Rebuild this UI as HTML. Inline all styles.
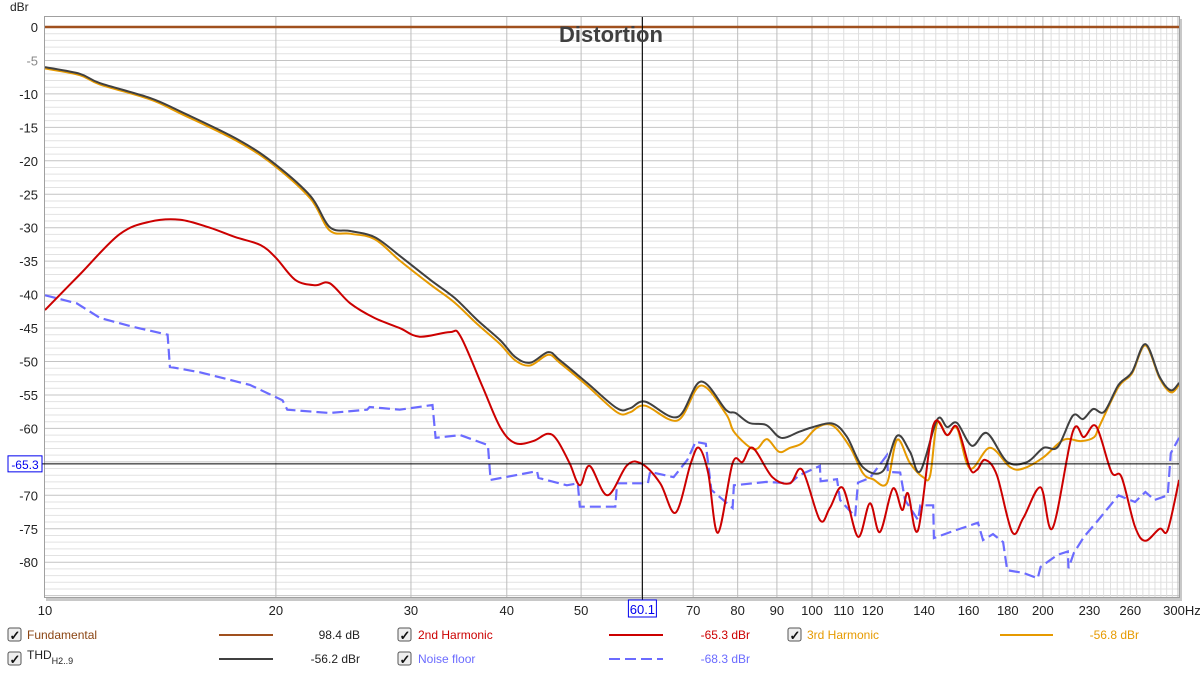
<!DOCTYPE html>
<html><head><meta charset="utf-8"><style>
body{margin:0;background:#fff;font-family:"Liberation Sans",sans-serif;}
svg{display:block}
</style></head><body>
<svg id="chart" width="1200" height="674" viewBox="0 0 1200 674" xmlns="http://www.w3.org/2000/svg">
<rect x="0" y="0" width="1200" height="674" fill="#ffffff"/>
<rect x="46" y="19" width="1136" height="582" fill="#c8c8c8"/>
<rect x="44.5" y="16.5" width="1135" height="581" fill="#fff" stroke="#a0a0a0"/>
<g id="grid"></g>
<g id="series" clip-path="url(#clip)"></g>
<defs><clipPath id="clip"><rect x="45" y="17" width="1134" height="580"/></clipPath></defs>
<g id="axes"></g>
<text x="611" y="42" text-anchor="middle" font-size="22" font-weight="bold" fill="#404040">Distortion</text>
<text x="10" y="11" font-size="12" fill="#222">dBr</text>
<g id="legend" font-size="12"></g>
</svg>
<script>
const NS="http://www.w3.org/2000/svg";
const xTicks=[10,20,30,40,50,70,80,90,100,110,120,140,160,180,200,230,260,300];
const xTickLabels=["10","20","30","40","50","70","80","90","100","110","120","140","160","180","200","230","260","300Hz"];
const yTicks=[0,-5,-10,-15,-20,-25,-30,-35,-40,-45,-50,-55,-60,-70,-75,-80];
const cursorFreq=60.1;
const cursorDb=-65.3;
const fundDb=0;
const thdF=[10,11.1,11.8,13.7,15.0,17.9,20,22.2,23.5,25,26.9,29.0,31.8,34.2,36.6,39.2,41.0,42.9,45.3,46.9,50.9,55.7,57.9,60.6,66.8,71.6,77.2,79.5,82.9,87.2,91.1,96.3,100.3,106.5,111.1,116.5,123.7,129.1,134.2,138.4,145.6,150,154.6,161.6,169.1,179.7,190.9,200.4,209,218.8,225.6,232.6,240.5,251,261.3,272.1,283.9,293.6,301];
const thdDb=[-6.0,-7.0,-8.4,-10.6,-12.6,-16.9,-20.6,-25.3,-29.9,-30.5,-31.4,-34.2,-37.8,-40.5,-43.8,-46.8,-49.3,-50.2,-48.6,-49.8,-53.2,-57,-57,-56,-58.3,-53,-57.2,-57.7,-59.2,-59.5,-61.4,-60.5,-59.8,-59.3,-61.3,-65.8,-66.4,-61.1,-63.5,-66.4,-58.7,-59.8,-59.2,-62.6,-60.7,-65,-65,-62.9,-62.8,-58.1,-58.6,-57.1,-57.5,-53.5,-51.6,-47.4,-52.3,-54.3,-53.2];
const h3F=[10,11.1,11.8,13.7,15.0,17.9,20,22.2,23.5,25,26.9,29.0,31.8,34.2,36.6,39.2,41.0,42.9,45.3,46.9,50.9,55.7,57.9,60.6,66.8,71.6,77.2,79.1,82.9,84.9,87.4,90.6,93.6,97.1,101.5,106.5,112.1,116.5,120.1,125.2,129.1,134.2,139.6,142.6,145.6,150,154.6,160.7,170.6,181.3,188.6,200.4,212.9,224.3,233.3,236.9,251,261.3,272.1,283.9,293.6,301];
const h3Db=[-6.2,-7.2,-8.6,-10.8,-12.9,-17.2,-20.9,-25.7,-30.4,-30.9,-31.7,-34.9,-38.5,-41.2,-44.4,-47.4,-49.8,-50.6,-49.0,-50.2,-53.6,-57.6,-57.6,-56.6,-58.8,-53.6,-57.8,-60.5,-62.8,-63,-61.6,-63.5,-62.9,-62.2,-59.9,-59.6,-62.8,-66.7,-67.6,-68.2,-61.7,-65.2,-67.3,-67,-59.2,-61,-60,-66,-62.9,-65.8,-66,-64.3,-61.7,-61.9,-61.3,-59.7,-53.8,-51.8,-47.6,-52.5,-54.6,-53.5];
const h2F=[10,11.1,12.5,13.7,15.0,16.4,17.7,19.1,20,21.2,22.5,23.5,25,26.9,29,30.8,33.7,34.8,37.2,39.2,41,43.3,45.2,46.5,48.3,49.8,51.3,54.1,57.4,60,63.4,66.4,69.5,71.2,73.2,75.4,78.8,81.2,83.7,88.8,93.6,97.1,102.4,105.5,109.7,114.8,119,122.6,127.5,131.1,133.4,137.5,143.9,150,154.6,160.7,164.1,168.1,174.2,182.4,188.6,198.6,205.9,218.8,226.3,234.7,245.7,253.3,263.7,272.1,283.9,290.9,301];
const h2Db=[-42.3,-37,-31,-29.1,-28.8,-30,-31.4,-32.6,-34.5,-37.8,-38.6,-38.3,-41.3,-43.5,-45,-46.3,-45.6,-46.2,-53.8,-59.8,-62.2,-61.9,-60.8,-61.7,-65.2,-68.5,-65.6,-70,-65.5,-65.3,-68.2,-72.6,-65.2,-62.9,-66.6,-75.6,-65.2,-65,-62.9,-67.3,-68.2,-66.2,-73.7,-71.9,-68.9,-76.2,-71.2,-75.5,-69,-72.2,-69.7,-75.2,-59.6,-61,-59.8,-66,-66.2,-64.7,-67,-75.5,-73.4,-68.8,-74.9,-60.5,-61.3,-59.7,-66.5,-67.3,-74.7,-76.8,-75.0,-75.2,-67.7];
const nzF=[10,11,11.8,13,14.45,14.55,15.9,18.5,20.4,20.7,23.5,26.3,26.5,29,32,32.3,34.8,37.8,38.1,43.8,44,47.9,49.5,49.8,55.4,55.7,61.1,61.5,66,68.8,70.5,72.7,73.9,78.8,79.1,87.2,93.6,96.3,102.4,102.6,107.8,108.8,113.8,114.8,119,125.2,125.6,130.3,132.2,137.5,138.4,143.9,144.2,151.4,164.6,167.1,172.2,177.5,179.7,188.6,196.9,198.6,209,215.5,216,219.5,226.3,236.1,251,263.7,272.1,279.6,290.9,293.6,301];
const nzDb=[-40.1,-41.3,-43.5,-44.8,-46,-50.8,-51.6,-53.5,-55.8,-57.2,-57.7,-57.2,-56.8,-57.2,-56.5,-61.4,-61,-62.5,-67.7,-66.4,-67.4,-68.5,-68.2,-71.7,-71.7,-68.2,-68.2,-66.5,-67.3,-64.7,-62,-62.3,-69.2,-71.9,-68.5,-68,-68.2,-67,-65.6,-67.9,-67.6,-70.7,-73.2,-68.1,-67.4,-64,-66.5,-66.6,-70.7,-73.7,-71.5,-71.5,-76.4,-75.5,-74.1,-76.7,-75.8,-77,-81.2,-81.6,-82.4,-80.7,-78.9,-78.4,-80.9,-78.6,-76.2,-73.7,-70,-71,-69.5,-70.7,-70,-63.7,-61.4];

const X0=45,X1=1179,Y0=17,Y1=597;
function xS(f){return 45+767*Math.log10(f/10);}
function yS(d){return 27-6.69*d;}
function mk(tag,attrs,parent){const e=document.createElementNS(NS,tag);for(const k in attrs)e.setAttribute(k,attrs[k]);parent.appendChild(e);return e;}

const grid=document.getElementById('grid');
for(let d=0;d>=-85;d--){
  const y=yS(d);
  const l=mk('line',{x1:X0,x2:X1,y1:y,y2:y,stroke:d%5===0?'#c4c4c4':'#e2e2e2','stroke-width':1},grid);
  
  
}
const vf=[];
for(let f=20;f<=100;f+=10)vf.push(f);
for(let f=105;f<=300;f+=5)vf.push(f);
vf.forEach(f=>{
  const x=xS(f);
  const major=(f<=100)||f===200||f===300;
  const l=mk('line',{x1:x,x2:x,y1:Y0,y2:Y1,stroke:major?'#bdbdbd':'#dedede','stroke-width':1},grid);
  
  
});

function smoothPath(F,D){
  const p=F.map((f,i)=>[xS(f),yS(D[i])]);
  let s='M'+p[0][0].toFixed(1)+','+p[0][1].toFixed(1);
  for(let i=0;i<p.length-1;i++){
    const a=p[Math.max(0,i-1)],b=p[i],c=p[i+1],d=p[Math.min(p.length-1,i+2)];
    const c1=[b[0]+(c[0]-a[0])/6,b[1]+(c[1]-a[1])/6];
    const c2=[c[0]-(d[0]-b[0])/6,c[1]-(d[1]-b[1])/6];
    s+=' C'+c1[0].toFixed(1)+','+c1[1].toFixed(1)+' '+c2[0].toFixed(1)+','+c2[1].toFixed(1)+' '+c[0].toFixed(1)+','+c[1].toFixed(1);
  }
  return s;
}
function linePath(F,D){return F.map((f,i)=>(i?'L':'M')+xS(f).toFixed(1)+','+yS(D[i]).toFixed(1)).join(' ');}

const sg=document.getElementById('series');
const nz=mk('path',{d:linePath(nzF,nzDb),fill:'none',stroke:'#6b6bff','stroke-width':2.2,'stroke-dasharray':'11,5'},sg);


const h3=mk('path',{d:smoothPath(h3F,h3Db),fill:'none',stroke:'#e69a00','stroke-width':2},sg);


const thd=mk('path',{d:smoothPath(thdF,thdDb),fill:'none',stroke:'#404040','stroke-width':2},sg);


const h2=mk('path',{d:smoothPath(h2F,h2Db),fill:'none',stroke:'#cc0000','stroke-width':2},sg);


const fu=mk('line',{x1:X0,x2:X1,y1:yS(fundDb),y2:yS(fundDb),stroke:'#a0501e','stroke-width':2.5},sg);


const cv=mk('line',{x1:xS(cursorFreq),x2:xS(cursorFreq),y1:Y0,y2:Y1+4,stroke:'#000','stroke-width':1},document.getElementById('axes'));


const ch=mk('line',{x1:X0-3,x2:X1,y1:yS(cursorDb),y2:yS(cursorDb),stroke:'#000','stroke-width':1},document.getElementById('axes'));



const ax=document.getElementById('axes');
xTicks.forEach((f,i)=>{
  const t=mk('text',{x:xS(f)+(i===xTicks.length-1?4:0),y:615,'text-anchor':'middle','font-size':13,fill:'#222'},ax);
  t.textContent=xTickLabels[i];
  
  
});
yTicks.forEach(d=>{
  const t=mk('text',{x:38,y:yS(d)+5,'text-anchor':'end','font-size':13,fill:d===-5?'#888':'#222'},ax);
  t.textContent=String(d);
  
  
});
const cx=xS(cursorFreq);
const xb=mk('rect',{x:cx-14,y:600,width:28,height:17,fill:'#fff',stroke:'#0000ee'},ax);


const xt=mk('text',{x:cx,y:614,'text-anchor':'middle','font-size':13,fill:'#0000ee'},ax);
xt.textContent=String(cursorFreq);


const cy=yS(cursorDb);
const yb=mk('rect',{x:8,y:cy-8,width:34,height:16,fill:'#fff',stroke:'#0000ee'},ax);


const yt=mk('text',{x:25,y:cy+5,'text-anchor':'middle','font-size':12,fill:'#0000ee'},ax);
yt.textContent=String(cursorDb);



const lg=document.getElementById('legend');
const items=[
 {cb:8,tx:27,y:635,label:'Fundamental',col:'#8b4513',lc:'#a0501e',l0:219,l1:273,val:'98.4 dB',vx:360,vc:'#222',dash:null,name:'fundamental'},
 {cb:398,tx:418,y:635,label:'2nd Harmonic',col:'#cc0000',lc:'#cc0000',l0:609,l1:663,val:'-65.3 dBr',vx:750,vc:'#cc0000',dash:null,name:'second-harmonic'},
 {cb:788,tx:807,y:635,label:'3rd Harmonic',col:'#e69a00',lc:'#e69a00',l0:1000,l1:1053,val:'-56.8 dBr',vx:1139,vc:'#e69a00',dash:null,name:'third-harmonic'},
 {cb:8,tx:27,y:659,label:'THD',col:'#222',lc:'#404040',l0:219,l1:273,val:'-56.2 dBr',vx:360,vc:'#222',dash:null,name:'thd'},
 {cb:398,tx:418,y:659,label:'Noise floor',col:'#6b6bff',lc:'#6b6bff',l0:609,l1:663,val:'-68.3 dBr',vx:750,vc:'#6b6bff',dash:'11,5',name:'noise-floor'}
];
items.forEach(it=>{
  const g=mk('g',{},lg);
  
  
  const b=mk('rect',{x:it.cb,y:it.y-7,width:13,height:13,rx:2,fill:'#eee',stroke:'#555'},g);
  
  
  const ck=mk('text',{x:it.cb+1.5,y:it.y+5,'font-size':13,'font-weight':'bold',fill:'#111'},g);
  ck.textContent='✓';
  
  
  const t=mk('text',{x:it.tx,y:it.y+4,'font-size':12,fill:it.col},g);
  
  
  if(it.name==='thd'){
    t.setAttribute('y',it.y);
    t.textContent='THD';
    const s=mk('tspan',{dy:5,'font-size':9},t);
    s.textContent='H2..9';
  } else t.textContent=it.label;
  const la={x1:it.l0,x2:it.l1,y1:it.y,y2:it.y,stroke:it.lc,'stroke-width':2};
  if(it.dash)la['stroke-dasharray']=it.dash;
  const l=mk('line',la,g);
  
  
  const v=mk('text',{x:it.vx,y:it.y+4,'text-anchor':'end','font-size':12,fill:it.vc},g);
  v.textContent=it.val;
  
  
});
</script>
</body></html>
